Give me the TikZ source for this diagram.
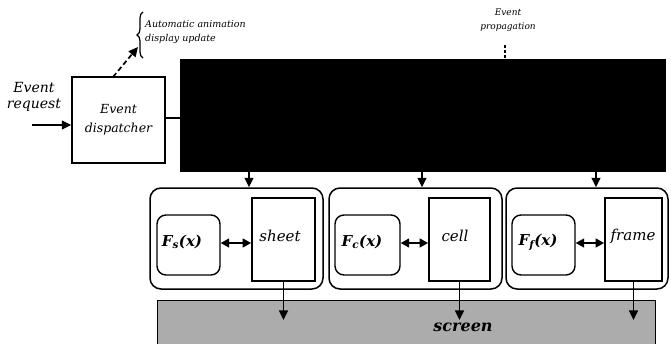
\documentclass[tikz,border=0pt]{standalone}
\usepackage{fontspec}
\setmainfont{DejaVu Serif}
\usetikzlibrary{arrows.meta,decorations.pathreplacing}
\begin{document}
\begin{tikzpicture}[x=1pt,y=-1pt,
  arr/.style={line width=1.5pt,-{Triangle[length=9.5pt,width=9pt]}},
  darr/.style={line width=1.5pt,{Triangle[length=8.5pt,width=9pt]}-{Triangle[length=8.5pt,width=9pt]}},
  sqbox/.style={draw,line width=1.4pt,inner sep=0pt,fill=white},
  grp/.style={draw,line width=1.5pt,rounded corners=11pt,inner sep=0pt},
  fbox/.style={draw,line width=1.4pt,rounded corners=9pt,inner sep=0pt},
  objbox/.style={draw,line width=1.8pt,inner sep=0pt},
  lab/.style={inner sep=0pt,font=\itshape}
]
\useasboundingbox (0,0) rectangle (671,343);

% main nodes
\node[sqbox,minimum width=93pt,minimum height=86pt,align=center,font=\fontsize{12.5}{19}\selectfont\itshape] (disp) at (118.5,120) {Event\\dispatcher};
\node[fill=black,draw=black,minimum width=485pt,minimum height=112pt,inner sep=0pt] (black) at (422.5,115) {};

\node[grp,minimum width=173pt,minimum height=101pt] (g1) at (236.5,238.5) {};
\node[grp,minimum width=173pt,minimum height=101pt] (g2) at (415.5,238.5) {};
\node[grp,minimum width=162pt,minimum height=101pt] (g3) at (587,238.5) {};

\node[fbox,minimum width=63pt,minimum height=60pt] (fs) at (188.5,245) {};
\node[fbox,minimum width=65pt,minimum height=60pt] (fc) at (367.5,245) {};
\node[fbox,minimum width=63pt,minimum height=60pt] (ff) at (543.5,245) {};
\node[lab,font=\fontsize{15}{17}\selectfont\bfseries\itshape] (fst) at (182,242) {F\textsubscript{s}(x)};
\node[lab,font=\fontsize{15}{17}\selectfont\bfseries\itshape] (fct) at (362,242) {F\textsubscript{c}(x)};
\node[lab,font=\fontsize{15}{17}\selectfont\bfseries\itshape] (fft) at (538,242) {F\textsubscript{f}(x)};

\node[objbox,minimum width=63pt,minimum height=83pt] (sheet) at (283.5,239.5) {};
\node[objbox,minimum width=61pt,minimum height=83pt] (cell) at (459.5,239.5) {};
\node[objbox,minimum width=57pt,minimum height=83pt] (frame) at (633.5,239.5) {};
\node[lab,font=\fontsize{15}{17}\selectfont\itshape] (sheett) at (280,236) {sheet};
\node[lab,font=\fontsize{15}{17}\selectfont\itshape] (cellt) at (455,236) {cell};
\node[lab,font=\fontsize{15}{17}\selectfont\itshape] (framet) at (633,236) {frame};

\node[draw=black,line width=1pt,fill=gray!65,minimum width=498pt,minimum height=46pt,inner sep=0pt] (screen) at (406,323) {};
\node[lab,font=\fontsize{16}{18}\selectfont\bfseries\itshape] (screent) at (463,327) {screen};

% labels
\node[lab,align=center,font=\fontsize{14}{16}\selectfont\itshape] (req) at (34,97) {Event\\request};
\node[lab,align=left,anchor=west,font=\fontsize{9.5}{14}\selectfont\itshape] (auto) at (145,32) {Automatic animation\\display update};
\node[lab,align=center,font=\fontsize{9}{14}\selectfont\itshape] (prop) at (508,20) {Event\\propagation};

% coordinates
\coordinate (reqs) at (32,125);
\coordinate (dshe) at (138,47);
\coordinate (dshs) at (113,77);
\coordinate (x1) at (249,0);
\coordinate (x2) at (422,0);
\coordinate (x3) at (596,0);
\coordinate (pt) at (505,45);

% connectors
\draw[arr] (reqs) -- (reqs -| disp.west);
\draw[line width=1.4pt] (disp.east |- 0,118) -- (black.west |- 0,118);
\draw[line width=1.7pt,dash pattern=on 5pt off 3pt,-{Triangle[length=9.5pt,width=9pt]}] (dshs) -- (dshe);
\draw[line width=1.2pt,decorate,decoration={brace,amplitude=6pt}] (143,58) -- (143,12);
\draw[line width=1.4pt,dash pattern=on 3pt off 2pt] (pt) -- (pt |- black.north);

\draw[arr] (black.south -| x1) -- (g1.north -| x1);
\draw[arr] (black.south -| x2) -- (g2.north -| x2);
\draw[arr] (black.south -| x3) -- (g3.north -| x3);

\draw[darr] (fs.east |- 0,243) -- (sheet.west |- 0,243);
\draw[darr] (fc.east |- 0,243) -- (cell.west |- 0,243);
\draw[darr] (ff.east |- 0,243) -- (frame.west |- 0,243);

\draw[arr] (sheet.south) -- ++(0,38);
\draw[arr] (cell.south) -- ++(0,38);
\draw[arr] (frame.south) -- ++(0,38);
\end{tikzpicture}
\end{document}
